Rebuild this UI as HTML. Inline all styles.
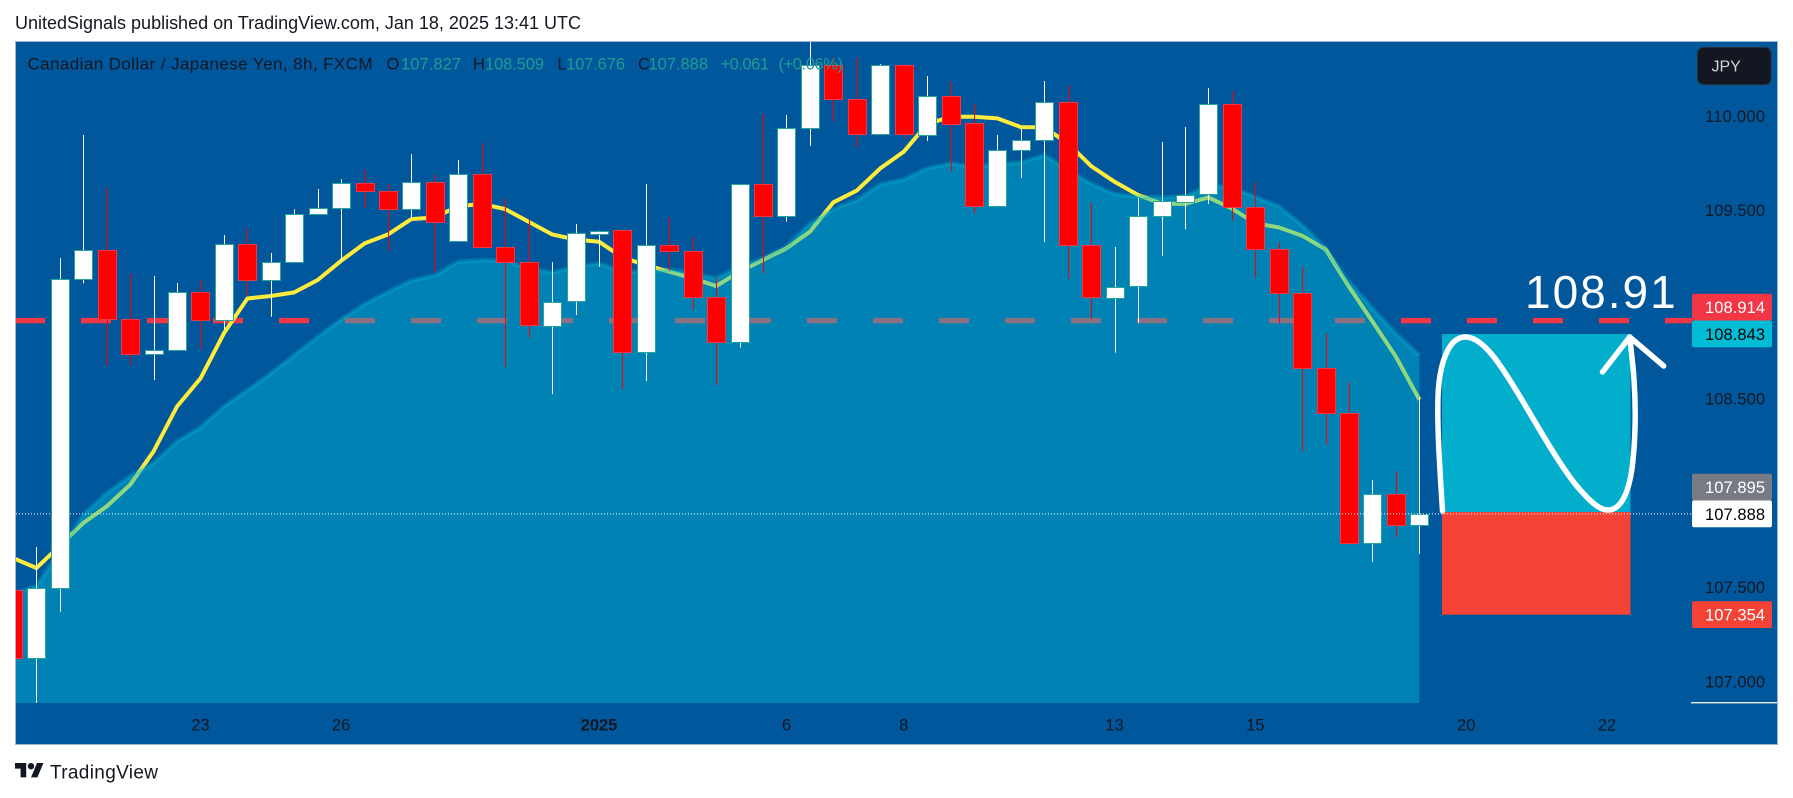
<!DOCTYPE html>
<html lang="en">
<head>
<meta charset="utf-8">
<title>CAD/JPY 8h chart</title>
<style>
html,body{margin:0;padding:0;width:1793px;height:798px;overflow:hidden;background:#fff}
svg{display:block}
text{font-family:"Liberation Sans",sans-serif}
</style>
</head>
<body>
<svg id="root" xmlns="http://www.w3.org/2000/svg" width="1793" height="798" viewBox="0 0 1793 798">
  <defs>
    <clipPath id="plotClip"><rect x="16" y="42" width="1676" height="661"/></clipPath>
  </defs>
  <text x="15" y="29" font-size="18" fill="#131722" textLength="566" lengthAdjust="spacing">UnitedSignals published on TradingView.com, Jan 18, 2025 13:41 UTC</text>
  <rect x="15.5" y="41.5" width="1762" height="703" fill="#00579b" stroke="#9fb4d0" stroke-width="1"/>
  <g id="plot" clip-path="url(#plotClip)"></g>
  <rect x="1692" y="42" width="1" height="702" fill="#005294"/>
  <rect x="1691" y="702" width="86" height="1.4" fill="#e8eef5"/>
  <rect x="1442" y="334" width="188.5" height="178" fill="#03aecd"/>
  <rect x="1442" y="512" width="188.5" height="102.7" fill="#f44336"/>
  <path d="M1442.5 511 C1440 470 1437 430 1438 397 C1439 365 1448 337 1465.5 337 C1485 337 1505 372 1522 400 C1537 425 1565 475 1583 493 C1592 503 1600 510 1608 510 C1622 510 1630 490 1633 460 C1636 430 1636 400 1633 367 L1629.7 337" fill="none" stroke="#fff" stroke-width="5.5" stroke-linecap="round" stroke-linejoin="round"/>
  <path d="M1602.5 372 L1629.7 337 L1663.7 366" fill="none" stroke="#fff" stroke-width="5.5" stroke-linecap="round" stroke-linejoin="round"/>
  <text x="1525" y="308" font-size="46" letter-spacing="2" fill="#fff">108.91</text>
  <g id="overlay"></g>
  <g id="legend" font-size="16.5">
    <text x="27.5" y="69.5" font-size="17" fill="#131722" textLength="345" lengthAdjust="spacing">Canadian Dollar / Japanese Yen, 8h, FXCM</text>
    <text x="386.5" y="69.5" fill="#131722">O</text>
    <text x="401" y="69.5" fill="#1f9d93" textLength="60" lengthAdjust="spacing">107.827</text>
    <text x="473" y="69.5" fill="#131722">H</text>
    <text x="485" y="69.5" fill="#1f9d93" textLength="59" lengthAdjust="spacing">108.509</text>
    <text x="557.5" y="69.5" fill="#131722">L</text>
    <text x="566" y="69.5" fill="#1f9d93" textLength="59" lengthAdjust="spacing">107.676</text>
    <text x="638" y="69.5" fill="#131722">C</text>
    <text x="648.5" y="69.5" fill="#1f9d93" textLength="59.5" lengthAdjust="spacing">107.888</text>
    <text x="720.5" y="69.5" fill="#1f9d93" textLength="48.5" lengthAdjust="spacing">+0.061</text>
    <text x="778.5" y="69.5" fill="#1f9d93" textLength="64.5" lengthAdjust="spacing">(+0.06%)</text>
  </g>
  <g id="priceAxis" font-size="16.5"></g>
  <g id="timeAxis" font-size="16.5"></g>
  <rect id="jpyBox" x="1697.5" y="47.5" width="73.5" height="37" rx="6" fill="#131722" stroke="#2a2e39"/>
  <text x="1711.5" y="71.5" font-size="16" fill="#d1d4dc">JPY</text>
  <g id="tags" font-size="16.5"></g>
  <g transform="translate(15 759.8) scale(0.8)" fill="#131722">
    <path d="M14 22H7V11H0V4h14v18zM28 22h-8l7.5-18h8L28 22z"/>
    <circle cx="20" cy="8" r="4"/>
  </g>
  <text x="50" y="778.5" font-size="19" fill="#131722" textLength="108" lengthAdjust="spacing">TradingView</text>
</svg>
<script>
const opens = [107.483,107.122,107.493,109.132,109.286,108.920,108.734,108.756,109.063,108.915,109.318,109.127,109.222,109.477,109.509,109.641,109.599,109.504,109.647,109.334,109.689,109.302,109.222,108.888,109.014,109.376,109.392,108.745,109.313,109.281,109.037,108.798,109.636,109.466,109.933,110.267,110.087,109.901,110.267,109.901,110.107,109.960,109.519,109.817,109.870,110.071,109.313,109.037,109.093,109.466,109.546,109.585,110.060,109.514,109.291,109.058,108.660,108.421,107.732,107.992,107.827];
const highs = [107.500,107.712,109.245,109.898,109.618,109.161,109.150,109.113,109.129,109.367,109.403,109.272,109.504,109.611,109.664,109.712,109.638,109.797,109.691,109.765,109.854,109.562,109.447,109.224,109.426,109.390,109.397,109.638,109.463,109.355,109.143,109.636,110.009,110.004,110.395,110.310,110.308,110.275,110.275,110.211,110.181,110.062,109.898,109.933,110.184,110.163,109.537,109.304,109.564,109.861,109.940,110.147,110.131,109.648,109.330,109.198,108.844,108.586,108.069,108.115,108.509];
const lows = [107.100,106.885,107.369,109.111,108.674,108.678,108.598,108.756,108.763,108.867,109.044,108.934,109.222,109.477,109.231,109.514,109.283,109.456,109.168,109.334,109.302,108.669,108.823,108.524,108.943,109.199,108.549,108.593,109.178,108.970,108.572,108.770,109.164,109.438,109.840,109.972,109.834,109.901,109.877,109.866,109.705,109.481,109.519,109.670,109.330,109.134,108.922,108.743,108.902,109.256,109.399,109.532,109.443,109.141,108.899,108.220,108.255,107.725,107.634,107.764,107.676];
const closes = [107.122,107.493,109.132,109.286,108.920,108.734,108.756,109.063,108.915,109.318,109.127,109.222,109.477,109.509,109.641,109.599,109.504,109.647,109.435,109.689,109.302,109.222,108.888,109.014,109.376,109.390,108.745,109.313,109.281,109.037,108.798,109.636,109.466,109.933,110.267,110.087,109.901,110.267,109.901,110.107,109.960,109.519,109.817,109.870,110.071,109.313,109.037,109.093,109.466,109.546,109.581,110.060,109.514,109.291,109.058,108.660,108.421,107.732,107.992,107.827,107.888];
const fastMaValues = [107.654,107.601,107.719,107.840,107.928,108.043,108.220,108.458,108.607,108.846,109.031,109.044,109.063,109.129,109.231,109.323,109.371,109.452,109.461,109.521,109.532,109.505,109.438,109.371,109.344,109.332,109.249,109.208,109.173,109.138,109.097,109.173,109.235,109.297,109.385,109.541,109.603,109.721,109.809,109.956,109.995,109.995,109.986,109.940,109.939,109.854,109.733,109.650,109.580,109.535,109.532,109.567,109.509,109.429,109.408,109.364,109.291,109.093,108.908,108.722,108.494];
const slowAreaValues = [107.463,107.504,107.689,107.884,107.999,108.087,108.158,108.273,108.347,108.458,108.545,108.634,108.731,108.828,108.920,109.001,109.067,109.125,109.155,109.226,109.235,109.231,109.191,109.169,109.199,109.217,109.173,109.173,109.185,109.164,109.138,109.199,109.244,109.306,109.429,109.504,109.553,109.636,109.663,109.721,109.748,109.730,109.744,109.753,109.792,109.712,109.641,109.585,109.571,109.567,109.571,109.633,109.618,109.571,109.521,109.420,109.297,109.120,108.978,108.846,108.731];
const priceTicks = ["110.000","109.500","108.500","107.500","107.000"];
const timeLabels = ["23","26","2025","6","8","13","15","20","22"];
const timeBars = [8,14,25,33,38,47,53,62,68];
const tagPrices = [107.888,107.354,108.843,107.895,108.914];
const levelPrice = 108.914;
const lastPrice = 107.888;

const NS = 'http://www.w3.org/2000/svg';
const x0 = 12.96, barStep = 23.44, priceBase = 107, priceY = 681.3, pxPerUnit = 188.5, plotBottom = 703;
function xScale(i){ return x0 + i * barStep; }
function yScale(p){ return priceY - (p - priceBase) * pxPerUnit; }
function make(parent, tag, attrs){
  const el = document.createElementNS(NS, tag);
  for (const k in attrs) el.setAttribute(k, attrs[k]);
  parent.appendChild(el);
  return el;
}
function pathOf(vals){
  return vals.map((v,i)=>(i?'L':'M')+xScale(i).toFixed(1)+' '+yScale(v).toFixed(1)).join(' ');
}

const plot = document.getElementById('plot');

for (let d = 15; d < 1692; d += 66) {
  const dash = make(plot,'rect',{x:d,y:(yScale(levelPrice)-2.6).toFixed(1),width:30,height:5.4,fill:'#f23645'});
  
  
}

const fastLine = make(plot,'path',{d:pathOf(fastMaValues),fill:'none',stroke:'#ffeb3b',"stroke-width":4,"stroke-linejoin":'round'});



const lastIdx = slowAreaValues.length - 1;
const areaFill = make(plot,'path',{d:pathOf(slowAreaValues)+' L'+xScale(lastIdx).toFixed(1)+' '+plotBottom+' L'+xScale(0).toFixed(1)+' '+plotBottom+' Z',fill:'#00bcd4',"fill-opacity":0.44});



const areaLine = make(plot,'path',{d:pathOf(slowAreaValues),fill:'none',stroke:'#00bcd4',"stroke-opacity":0.3,"stroke-width":4.5,"stroke-linejoin":'round'});



opens.forEach((o,i)=>{
  const c = closes[i], up = c >= o, cx = Math.round(xScale(i));
  const wick = make(plot,'rect',{x:cx,y:yScale(highs[i]).toFixed(1),width:1,height:(yScale(lows[i])-yScale(highs[i])).toFixed(1),fill:up?'#ffffff':'#ff0000'});
  
  
  const top = yScale(Math.max(o,c)), bot = yScale(Math.min(o,c));
  const body = make(plot,'rect',{x:cx-8.5,y:Math.round(top)+0.5,width:18,height:Math.max(Math.round(bot-top),3),fill:up?'#ffffff':'#ff0000',stroke:up?'#26a69a':'#f23645',"stroke-width":1});
  
  
});

const overlay = document.getElementById('overlay');
const dotted = make(overlay,'line',{x1:16,x2:1692,y1:yScale(lastPrice).toFixed(1),y2:yScale(lastPrice).toFixed(1),stroke:'#ffffff',"stroke-width":1,"stroke-dasharray":'1 2'});



const priceAxis = document.getElementById('priceAxis');
priceTicks.forEach(t=>{
  const lab = make(priceAxis,'text',{x:1705,y:(yScale(parseFloat(t))+6).toFixed(1),fill:'#131722',textLength:60,lengthAdjust:'spacing'});
  lab.textContent = t;
  
  
});

const timeAxis = document.getElementById('timeAxis');
timeLabels.forEach((t,i)=>{
  const lab = make(timeAxis,'text',{x:xScale(timeBars[i]).toFixed(1),y:730.5,"text-anchor":'middle',fill:'#131722'});
  if (t === '2025') lab.setAttribute('font-weight','bold');
  lab.textContent = t;
  
  
});

const tags = document.getElementById('tags');
const tagFills = ['#ffffff','#f44336','#00bcd4','#787b86','#f23645'];
const tagInks = ['#000000','#ffffff','#000000','#ffffff','#ffffff'];
const placed = [];
tagPrices.forEach((p,i)=>{
  let cy = yScale(p);
  placed.forEach(o=>{ if (Math.abs(o-cy) < 26.5) cy = o - 26.8; });
  placed.push(cy);
  const box = make(tags,'rect',{x:1692,y:(cy-13.4).toFixed(1),width:80,height:26.8,rx:2,fill:tagFills[i]});
  
  
  const lab = make(tags,'text',{x:1705,y:(cy+6).toFixed(1),fill:tagInks[i],textLength:60,lengthAdjust:'spacing'});
  lab.textContent = p.toFixed(3);
  
  
});
</script>
</body>
</html>
